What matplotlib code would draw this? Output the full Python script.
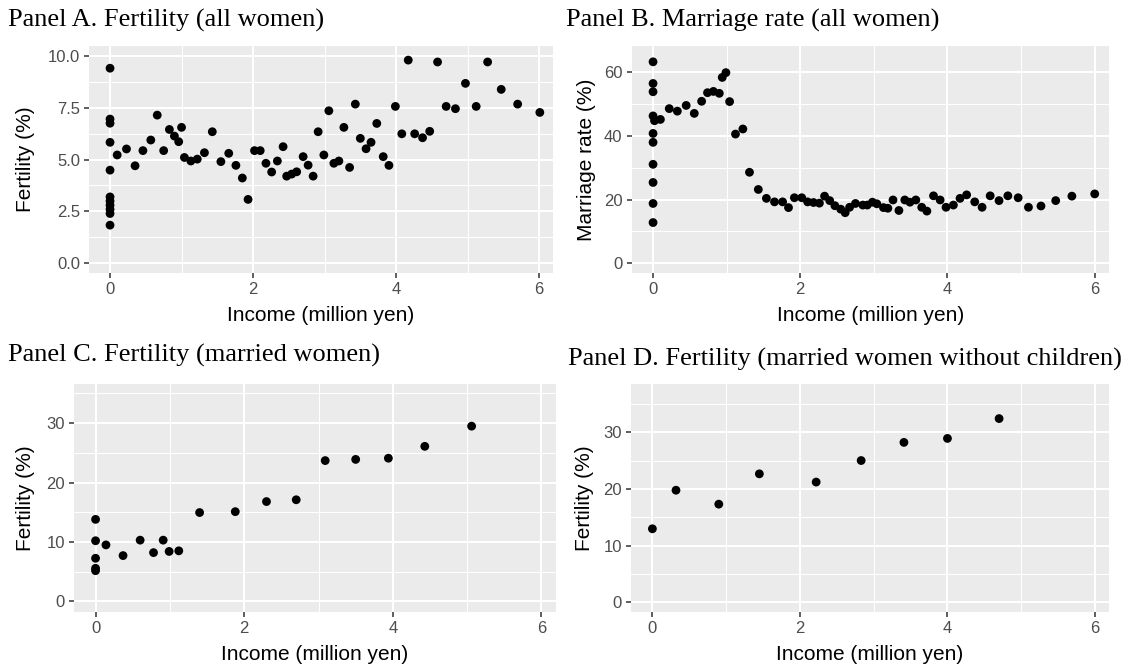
import matplotlib
matplotlib.use("Agg")
import matplotlib.pyplot as plt

# ---------------- data ----------------
a_income = [0, 0, 0, 0, 0, 0, 0, 0, 0, 0, 0,
            0.10, 0.23, 0.35, 0.46, 0.57, 0.66, 0.75, 0.83, 0.90, 0.96,
            1.00, 1.04, 1.13, 1.22, 1.32, 1.43, 1.55, 1.66, 1.76, 1.85,
            1.93, 2.02, 2.10, 2.18, 2.26, 2.34, 2.42, 2.47, 2.54, 2.61,
            2.70, 2.77, 2.84, 2.91, 2.99, 3.06, 3.13, 3.20, 3.27, 3.35,
            3.43, 3.50, 3.58, 3.65, 3.73, 3.82, 3.90, 3.99, 4.08, 4.17,
            4.26, 4.37, 4.47, 4.58, 4.70, 4.83, 4.97, 5.12, 5.28, 5.47,
            5.70, 6.01]
a_fertility = [9.4, 6.95, 6.75, 5.83, 4.49, 3.2, 3.0, 2.8, 2.6, 2.4, 1.84,
               5.22, 5.51, 4.70, 5.43, 5.94, 7.14, 5.43, 6.45, 6.13, 5.86,
               6.55, 5.10, 4.93, 5.02, 5.33, 6.34, 4.90, 5.30, 4.72, 4.11,
               3.08, 5.43, 5.43, 4.82, 4.40, 4.93, 5.62, 4.20, 4.30, 4.41,
               5.14, 4.73, 4.20, 6.34, 5.22, 7.35, 4.82, 4.93, 6.55, 4.62,
               7.67, 6.02, 5.52, 5.83, 6.74, 5.14, 4.72, 7.56, 6.24, 9.79,
               6.24, 6.05, 6.36, 9.70, 7.56, 7.45, 8.67, 7.56, 9.70, 8.38,
               7.67, 7.27]

b_income = [0, 0, 0, 0, 0, 0, 0, 0, 0, 0, 0.02,
            0.10, 0.22, 0.33, 0.45, 0.56, 0.66, 0.74, 0.82, 0.90, 0.94,
            0.99, 1.04, 1.12, 1.22, 1.31, 1.43, 1.54, 1.65, 1.76, 1.84,
            1.92, 2.02, 2.10, 2.18, 2.26, 2.33, 2.40, 2.47, 2.55, 2.61,
            2.67, 2.75, 2.85, 2.91, 2.98, 3.04, 3.13, 3.19, 3.26, 3.34,
            3.42, 3.49, 3.57, 3.65, 3.72, 3.81, 3.90, 3.98, 4.08, 4.17,
            4.26, 4.37, 4.47, 4.58, 4.70, 4.82, 4.96, 5.10, 5.27, 5.47,
            5.69, 6.00]
b_marriage = [63.3, 56.5, 53.9, 46.3, 40.8, 38.0, 31.1, 25.4, 18.8, 12.8, 44.8,
              45.2, 48.6, 47.8, 49.6, 47.1, 50.9, 53.6, 54.0, 53.4, 58.4,
              59.9, 50.8, 40.6, 42.2, 28.6, 23.2, 20.4, 19.3, 19.3, 17.5,
              20.6, 20.6, 19.3, 19.1, 18.9, 21.1, 19.7, 18.1, 17.0, 15.9,
              17.6, 18.8, 18.3, 18.3, 19.2, 18.7, 17.5, 17.3, 19.9, 16.6,
              19.9, 19.2, 19.9, 17.6, 16.4, 21.2, 19.9, 17.6, 18.3, 20.4,
              21.5, 19.3, 17.6, 21.2, 19.7, 21.2, 20.6, 17.6, 18.0, 19.7,
              21.1, 21.8]

c_income = [0, 0, 0, 0, 0, 0.14, 0.37, 0.60, 0.78, 0.91, 0.99, 1.12,
            1.40, 1.88, 2.30, 2.70, 3.09, 3.50, 3.94, 4.43, 5.06]
c_fertility = [13.8, 10.2, 7.25, 5.56, 5.16, 9.5, 7.7, 10.3, 8.2, 10.3, 8.4, 8.5,
               14.95, 15.1, 16.8, 17.1, 23.7, 23.9, 24.1, 26.1, 29.5]

d_income = [0, 0.32, 0.90, 1.45, 2.22, 2.83, 3.41, 4.00, 4.70]
d_fertility = [12.96, 19.76, 17.3, 22.65, 21.2, 25.0, 28.2, 28.9, 32.4]

titles = ["Panel A. Fertility (all women)",
          "Panel B. Marriage rate (all women)",
          "Panel C. Fertility (married women)",
          "Panel D. Fertility (married women without children)"]
ylabels = ["Fertility (%)", "Marriage rate (%)", "Fertility (%)", "Fertility (%)"]
xlabel = "Income (million yen)"
x_ticks = [0, 2, 4, 6]
y_ticks = [[0, 2.5, 5, 7.5, 10], [0, 20, 40, 60], [0, 10, 20, 30], [0, 10, 20, 30]]
y_ticklabels = [["0.0", "2.5", "5.0", "7.5", "10.0"], ["0", "20", "40", "60"],
                ["0", "10", "20", "30"], ["0", "10", "20", "30"]]

# ---------------- layout ----------------
W, H = 1132, 666
DPI = 100
fig = plt.figure(figsize=(W / DPI, H / DPI), dpi=DPI)
fig.patch.set_facecolor("white")

SANS = "Liberation Sans"
SERIF = "Liberation Serif"

# (left, right, top, bottom) in pixels
boxes = [(89.3, 552.7, 46, 273.3),
         (631.7, 1108.7, 46, 273.3),
         (74.0, 555.6, 384, 611.7),
         (631.0, 1109.0, 384, 611.7)]
ylims = [(-0.48, 10.47), (-3.14, 68.27), (-1.75, 36.6), (-1.67, 38.5)]
xlim = (-0.29, 6.19)
title_pos = [(8, 27), (566, 27), (8, 362), (568, 366)]
ylabel_x = [26, 587, 26, 585]
xlabel_top = [306, 306, 645, 645]

datasets = [(a_income, a_fertility), (b_income, b_marriage),
            (c_income, c_fertility), (d_income, d_fertility)]

for i, (l, r, t, b) in enumerate(boxes):
    ax = fig.add_axes([l / W, 1 - b / H, (r - l) / W, (b - t) / H])
    ax.set_facecolor("#EBEBEB")
    for s in ax.spines.values():
        s.set_visible(False)
    ax.set_xticks(x_ticks)
    ax.set_xticklabels([str(v) for v in x_ticks])
    ax.set_yticks(y_ticks[i])
    ax.set_yticklabels(y_ticklabels[i])
    yt = y_ticks[i]
    step = yt[1] - yt[0]
    yminor = [v + step / 2 for v in yt]
    ax.set_yticks(yminor, minor=True)
    ax.set_xticks([1, 3, 5], minor=True)
    ax.set_xlim(*xlim)
    ax.set_ylim(*ylims[i])
    ax.grid(which="major", color="white", linewidth=1.5)
    ax.grid(which="minor", color="white", linewidth=0.75)
    ax.set_axisbelow(True)
    ax.tick_params(which="major", length=3.6, width=1.1, color="#333333",
                   labelcolor="#4D4D4D", labelsize=12, pad=3)
    ax.tick_params(which="minor", length=0)
    for lab in ax.get_xticklabels() + ax.get_yticklabels():
        lab.set_fontfamily(SANS)
    x, y = datasets[i]
    ax.scatter(x, y, s=40, color="black", edgecolors="none", zorder=3,
               clip_on=False)
    ax.set_xlabel(xlabel, fontsize=15, family=SANS, color="black")
    ax.xaxis.set_label_coords(0.5, (b - xlabel_top[i]) / (b - t))
    ax.set_ylabel(ylabels[i], fontsize=15, family=SANS, color="black")
    ax.yaxis.set_label_coords((ylabel_x[i] + 9 - l) / (r - l), 0.5)
    fig.text(title_pos[i][0] / W, 1 - title_pos[i][1] / H, titles[i],
             family=SERIF, fontsize=19, color="black", ha="left",
             va="baseline")

fig.savefig("out.png", dpi=DPI, facecolor="white")
